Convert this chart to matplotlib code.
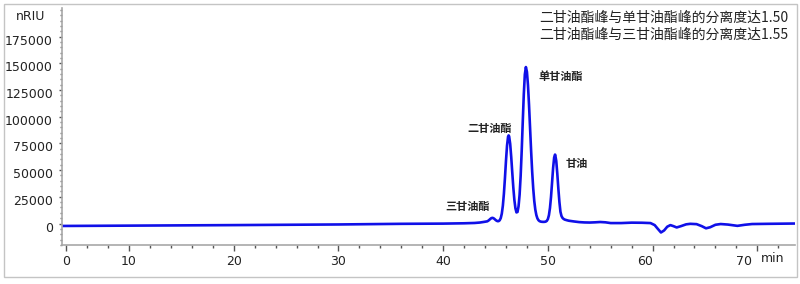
import matplotlib
matplotlib.use("Agg")
import matplotlib.pyplot as plt
from matplotlib.patches import Rectangle
from matplotlib.ticker import MultipleLocator
from matplotlib.transforms import ScaledTranslation

# ---- data ----
time_min = [3.6, 10, 20, 30, 36, 40, 42, 43, 43.5, 43.9,
            44.2, 44.3, 44.4, 44.5, 44.6, 44.7, 44.8, 44.9, 45.0, 45.1,
            45.2, 45.3, 45.4, 45.5, 45.6, 45.7, 45.8, 45.9, 46.0, 46.1,
            46.2, 46.25, 46.3, 46.4, 46.5, 46.6, 46.7, 46.8, 46.9, 47.0,
            47.1, 47.2, 47.3, 47.4, 47.5, 47.6, 47.7, 47.8, 47.9, 48.0,
            48.1, 48.2, 48.3, 48.4, 48.5, 48.6, 48.7, 48.8, 48.9, 49.0,
            49.1, 49.2, 49.3, 49.4, 49.5, 49.6, 49.7, 49.8, 49.9, 50.0,
            50.1, 50.2, 50.3, 50.4, 50.5, 50.6, 50.68, 50.7, 50.8, 50.9,
            51.0, 51.1, 51.2, 51.3, 51.4, 51.5, 51.6, 51.8, 52.0, 52.5,
            53.0, 53.5, 54.0, 54.5, 55.0, 55.5, 56.0, 57.0, 58.0, 59.0,
            59.8, 60.2, 60.5, 60.8, 61.1, 61.4, 61.7, 62.0, 62.3, 62.7,
            63.2, 63.6, 64.2, 64.7, 65.1, 65.5, 66.0, 66.5, 67.2, 68.1,
            68.8, 69.5, 71.0, 73.8]
signal_nriu = [-2300, -2000, -1500, -900, -300, -100, 200, 500, 900, 1500,
               2000, 2550, 3350, 4250, 5000, 5300, 5000, 4250, 3350, 2600,
               2190, 2250, 3050, 5060, 9230, 16600, 27800, 42500, 58800, 73000,
               81400, 82500, 81600, 74600, 62300, 47700, 33600, 22100, 14300, 10400,
               10800, 16100, 27000, 44500, 67900, 94900, 120800, 139600, 146500, 142000,
               129500, 111000, 89400, 67900, 48600, 32900, 21100, 13000, 7870, 4800,
               3110, 2240, 1820, 1630, 1550, 1520, 1590, 1810, 2470, 4140,
               7760, 14500, 24900, 38300, 52000, 61800, 64500, 64400, 58600, 46700,
               32700, 20300, 11000, 7000, 5200, 4300, 3700, 3100, 2600, 1900,
               1300, 1000, 900, 1100, 1400, 1100, 400, 400, 800, 700,
               400, -1500, -5000, -8400, -6500, -3000, -1500, -2500, -3700, -2500,
               -800, -300, -600, -2500, -4500, -3500, -1200, -500, -1000, -2200,
               -1200, -500, -300, 0]

peak_names = ["三甘油酯", "二甘油酯", "单甘油酯", "甘油"]
peak_label_x = [42.34, 44.44, 49.08, 51.66]
peak_label_y = [16400, 89400, 138100, 56600]
peak_label_ha = ["center", "center", "left", "left"]

x_tick_pos = [4, 10, 20, 30, 40, 50, 60, 70]
x_tick_labels = ["0", "10", "20", "30", "40", "50", "60", "70"]
y_tick_pos = [0, 25000, 50000, 75000, 100000, 125000, 150000, 175000]

note_lines = ["二甘油酯峰与单甘油酯峰的分离度达1.50",
              "二甘油酯峰与三甘油酯峰的分离度达1.55"]

# ---- figure ----
W, H = 800, 284
fig = plt.figure(figsize=(W / 100, H / 100), dpi=100)
cjk = ["Noto Sans CJK SC", "DejaVu Sans"]

ax = fig.add_axes([62 / W, 1 - 245 / H, (795 - 62) / W, (245 - 8) / H])
ax.plot(time_min, signal_nriu, color="#1010e8", lw=1.9, solid_joinstyle="round")

ax.set_xlim(3.6, 73.6)
ax.set_ylim(-20130, 201800)

for s in ["top", "right"]:
    ax.spines[s].set_visible(False)
for s in ["left", "bottom"]:
    ax.spines[s].set_color("#a8a8a8")
    ax.spines[s].set_linewidth(1.2)

ax.set_xticks(x_tick_pos)
ax.set_xticklabels(x_tick_labels)
ax.xaxis.set_minor_locator(MultipleLocator(2))
ax.set_yticks(y_tick_pos)
ax.set_yticklabels([str(v) for v in y_tick_pos])
ax.yaxis.set_minor_locator(MultipleLocator(5000))

ax.tick_params(axis="x", which="major", direction="out", length=4, width=1,
               color="#555555", labelsize=9, labelcolor="#222222", pad=3)
ax.tick_params(axis="x", which="minor", direction="out", length=2.2, width=1,
               color="#555555")
ax.tick_params(axis="y", which="major", direction="out", length=2.5, width=1,
               color="#555555", labelsize=9, labelcolor="#222222", pad=4)
ax.tick_params(axis="y", which="minor", direction="out", length=1.2, width=1,
               color="#777777")

# the reference draws the last two time labels a little left of their ticks
fig.canvas.draw()
xlabels = ax.get_xticklabels()
shifts_px = {"60": -8, "70": -13}
for lab in xlabels:
    dx = shifts_px.get(lab.get_text())
    if dx:
        lab.set_transform(lab.get_transform() +
                          ScaledTranslation(dx / 100, 0, fig.dpi_scale_trans))

# y labels sit slightly below their ticks in the reference
for lab in ax.get_yticklabels():
    lab.set_transform(lab.get_transform() +
                      ScaledTranslation(0, -3 / 100, fig.dpi_scale_trans))

# peak labels
for name, px, py, ha in zip(peak_names, peak_label_x, peak_label_y, peak_label_ha):
    ax.text(px, py, name, ha=ha, va="center", fontsize=8, fontweight="bold",
            family=cjk, color="#222222")

# axis unit labels
fig.text(31 / W, 1 - 16.5 / H, "nRIU", ha="center", va="center", fontsize=9,
         color="#222222")
fig.text(773 / W, 1 - 258 / H, "min", ha="center", va="center", fontsize=9,
         color="#222222")

# notes top-right
fig.text(788 / W, 1 - 17.3 / H, note_lines[0], ha="right", va="center",
         fontsize=10, family=cjk, color="#222222")
fig.text(788 / W, 1 - 35 / H, note_lines[1], ha="right", va="center",
         fontsize=10, family=cjk, color="#222222")

# outer border
fig.patches.append(Rectangle((4 / W, 1 - 277 / H), (796.5 - 4) / W, (277 - 4) / H,
                             transform=fig.transFigure, fill=False,
                             edgecolor="#c4c4c4", lw=1))

fig.savefig("out.png", dpi=100)
